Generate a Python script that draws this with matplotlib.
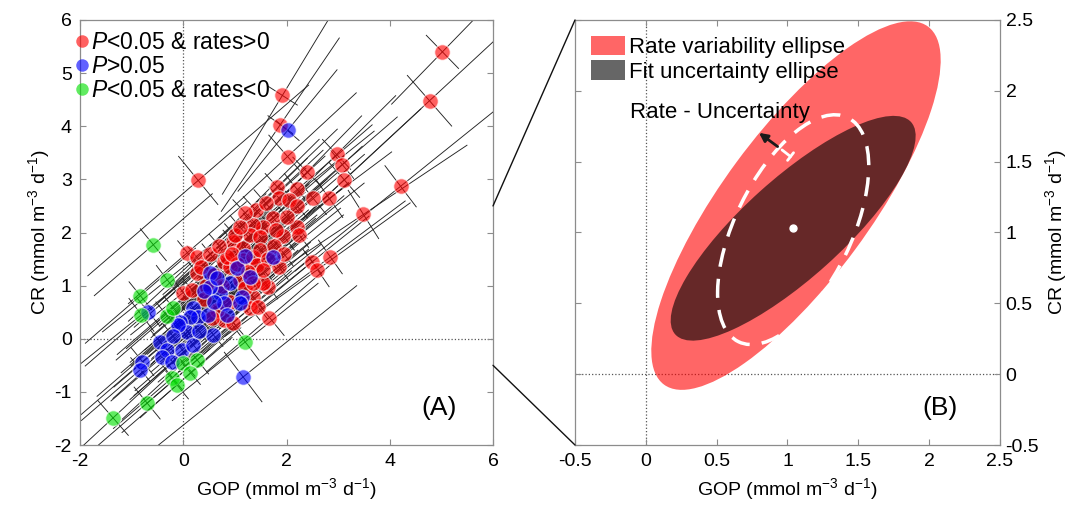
import numpy as np
import matplotlib
matplotlib.use("Agg")
import matplotlib.pyplot as plt
from matplotlib.collections import LineCollection
from matplotlib.patches import Ellipse, Patch, ConnectionPatch
from matplotlib.lines import Line2D

plt.rcParams['font.family'] = ['Liberation Sans', 'DejaVu Sans']
plt.rcParams['mathtext.fontset'] = 'custom'
plt.rcParams['mathtext.rm'] = 'Liberation Sans'
plt.rcParams['mathtext.it'] = 'Liberation Sans:italic'
plt.rcParams['axes.unicode_minus'] = False

# --- panel A: per-station rates, with long/short axis of each fit ellipse ---
# P<0.05 & rates>0
red_gop = [5.02, 4.77, 4.21, 3.49, 1.92, 1.88, 2.02, 2.97, 3.08, 3.12, 0.29, 2.40, 1.82, 2.21, 1.86, 2.05,
           2.52, 2.83, 2.21, 1.40, 1.74, 1.55, 1.94, 2.21, 1.36, 1.20, 2.85, 2.50, 2.60, 1.67, 1.65, 0.08,
           0.27, 0.52, 0.97, 1.16, 1.30, 1.49, 0.78, 0.91, 1.16, 1.36, 1.49, 0.27, 0.00, 0.17, 0.85, 1.05,
           1.43, 1.55, 1.36, 1.30, 0.78, 0.97, 0.66, 1.75, 1.65, 1.85, 1.10, 0.60, 0.45, 1.20, 0.90, 0.40,
           1.00, 0.70, 1.55, 1.95, 1.25, 0.55, 0.35, 2.00, 1.60, 1.10, 0.95, 1.45, 1.80, 0.75, 1.35, 2.25]
red_cr = [5.40, 4.48, 2.87, 2.34, 4.58, 4.03, 3.43, 3.47, 3.28, 2.99, 2.98, 3.14, 2.86, 2.81, 2.64, 2.62,
          2.64, 2.64, 2.49, 2.43, 2.28, 2.11, 1.94, 2.11, 2.15, 2.37, 1.54, 1.45, 1.30, 0.40, 0.98, 1.62,
          1.53, 1.60, 1.83, 1.71, 1.96, 1.92, 1.45, 1.36, 1.49, 1.53, 1.68, 1.24, 0.87, 0.92, 1.54, 1.40,
          1.39, 1.05, 0.79, 0.58, 0.36, 0.30, 0.55, 1.75, 1.50, 1.35, 1.10, 1.20, 1.00, 0.95, 0.70, 0.75,
          1.95, 1.75, 1.30, 1.60, 1.25, 0.40, 1.35, 2.30, 2.55, 2.10, 1.60, 0.60, 2.05, 1.00, 1.05, 1.95]
red_long = [1.4, 3.2, 2.6, 2.4, 2.2, 2.0, 1.8, 1.6, 1.4, 2.0, 2.8, 1.5, 1.6, 1.9, 1.2, 2.1,
            1.3, 1.5, 1.7, 1.4, 1.8, 1.2, 1.6, 1.3, 1.5, 2.0, 1.8, 1.4, 2.2, 1.6, 1.3, 1.5,
            1.8, 1.2, 1.4, 1.6, 1.3, 1.7, 1.1, 1.5, 1.2, 1.4, 1.1, 1.6, 1.3, 1.9, 1.0, 1.3,
            1.5, 1.2, 1.4, 1.6, 1.3, 1.5, 1.1, 1.5, 1.2, 1.6, 1.0, 1.4, 1.2, 1.3, 1.1, 1.5,
            1.2, 1.6, 1.0, 1.4, 1.1, 1.3, 1.0, 1.3, 1.5, 1.7, 1.2, 1.4, 1.1, 1.3, 1.2, 1.6]
red_short = [0.45, 0.65, 0.50, 0.55, 0.35, 0.30, 0.55, 0.40, 0.35, 0.45, 0.60, 0.40, 0.35, 0.40, 0.30, 0.35,
             0.40, 0.45, 0.30, 0.35, 0.30, 0.25, 0.35, 0.30, 0.30, 0.35, 0.40, 0.30, 0.40, 0.45, 0.30, 0.30,
             0.30, 0.25, 0.30, 0.25, 0.30, 0.30, 0.25, 0.25, 0.25, 0.30, 0.25, 0.30, 0.30, 0.30, 0.25, 0.25,
             0.30, 0.30, 0.30, 0.30, 0.30, 0.30, 0.25, 0.30, 0.25, 0.30, 0.25, 0.25, 0.25, 0.25, 0.25, 0.30,
             0.30, 0.30, 0.25, 0.30, 0.25, 0.25, 0.25, 0.30, 0.35, 0.30, 0.25, 0.30, 0.25, 0.25, 0.25, 0.30]
red_ang = [45, 42, 38, 33, 58, 55, 42, 44, 40, 42, 40, 45, 43, 40, 42, 38,
           40, 36, 42, 44, 40, 42, 38, 40, 43, 44, 36, 38, 35, 40, 38, 40,
           42, 40, 43, 41, 42, 40, 42, 40, 41, 40, 42, 40, 38, 40, 42, 40,
           39, 40, 40, 39, 40, 41, 40, 42, 40, 38, 40, 42, 40, 41, 40, 40,
           43, 42, 40, 38, 41, 40, 42, 40, 42, 41, 40, 39, 41, 40, 40, 38]

# P>0.05
blue_gop = [2.02, 1.74, 1.05, 0.52, 1.30, 0.72, 0.52, 0.91, 1.14, 0.78, 1.10, 0.19, 0.29, 0.48, 0.14, -0.06,
            0.08, -0.10, -0.45, -0.31, -0.02, 0.19, -0.41, -0.21, -0.79, -0.83, 0.58, 1.16, -0.68, 0.65, 0.40,
            0.85, 1.20, 0.30, 0.60, -0.20]
blue_cr = [3.92, 1.54, 1.34, 1.24, 1.17, 0.87, 0.98, 1.05, 0.79, 0.68, 0.68, 0.58, 0.41, 0.45, 0.41, 0.32,
           0.13, 0.26, -0.06, -0.21, -0.21, -0.11, -0.34, -0.43, -0.43, -0.58, 0.08, -0.72, 0.51, 1.15, 0.90,
           0.45, 1.55, 0.15, 0.70, 0.05]
blue_long = [1.5, 1.8, 1.2, 1.4, 1.3, 1.1, 1.5, 1.2, 1.4, 1.3, 1.1, 1.6, 1.2, 1.4, 1.1, 1.5,
             1.3, 1.2, 1.6, 1.4, 1.2, 1.5, 1.3, 1.1, 1.8, 1.5, 1.4, 2.8, 1.6, 1.2, 1.3,
             1.1, 1.3, 1.2, 1.4, 1.5]
blue_short = [0.30, 0.35, 0.25, 0.25, 0.25, 0.25, 0.25, 0.25, 0.30, 0.25, 0.25, 0.30, 0.25, 0.25, 0.25, 0.30,
              0.25, 0.30, 0.30, 0.30, 0.25, 0.30, 0.30, 0.25, 0.35, 0.30, 0.30, 0.60, 0.35, 0.25, 0.25,
              0.25, 0.25, 0.25, 0.25, 0.30]
blue_ang = [50, 40, 41, 42, 40, 41, 40, 40, 39, 41, 40, 40, 41, 40, 40, 40,
            41, 40, 40, 41, 40, 40, 40, 41, 40, 40, 40, 38, 40, 41, 40,
            40, 41, 40, 40, 40]

# P<0.05 & rates<0
green_gop = [-0.58, -0.31, -0.83, -0.81, -0.31, -0.19, 0.00, 0.27, 0.14, -0.21, -0.12, -0.70, -1.36, 1.20]
green_cr = [1.77, 1.11, 0.81, 0.45, 0.43, 0.58, -0.45, -0.40, -0.64, -0.73, -0.87, -1.21, -1.49, -0.06]
green_long = [1.5, 1.6, 1.4, 1.8, 1.3, 1.2, 1.6, 1.4, 1.3, 1.5, 1.4, 1.6, 2.0, 1.8]
green_short = [0.40, 0.35, 0.35, 0.40, 0.35, 0.30, 0.35, 0.35, 0.30, 0.35, 0.35, 0.40, 0.45, 0.45]
green_ang = [40, 38, 40, 38, 40, 40, 42, 40, 41, 40, 40, 40, 42, 38]

# --- panel B: illustrative ellipses ---
rate_center = (1.06, 1.19)
rate_axes = (1.57, 0.52)      # semi-axes
rate_angle = 53.6
fit_center = (1.04, 1.03)
fit_axes = (1.12, 0.35)
fit_angle = 42
diff_center = (1.04, 1.02)
diff_axes = (0.88, 0.41)
diff_angle = 64


def cross_segments(x, y, L, S, ang):
    segs = []
    for xi, yi, li, si, ai in zip(x, y, L, S, ang):
        t = np.deg2rad(ai)
        c, s = np.cos(t), np.sin(t)
        segs.append([(xi - li * c, yi - li * s), (xi + li * c, yi + li * s)])
        segs.append([(xi + si * s, yi - si * c), (xi - si * s, yi + si * c)])
    return segs


fig = plt.figure(figsize=(10.72, 5.11), dpi=100)
axA = fig.add_axes([80 / 1072, 66 / 511, 413 / 1072, 425 / 511])
axB = fig.add_axes([575 / 1072, 66 / 511, 425 / 1072, 425 / 511])

spine_col = '#8c8c8c'
for ax in (axA, axB):
    for sp in ax.spines.values():
        sp.set_color(spine_col)
        sp.set_linewidth(0.9)
    ax.tick_params(direction='in', length=4, width=0.8, color=spine_col,
                   labelsize=14, top=True, right=True, pad=6)

# panel A
axA.axvline(0, color='#555555', ls=':', lw=0.9, zorder=1)
axA.axhline(0, color='#555555', ls=':', lw=0.9, zorder=1)

groups = [
    (red_gop, red_cr, red_long, red_short, red_ang, '#ff0000'),
    (blue_gop, blue_cr, blue_long, blue_short, blue_ang, '#0000ff'),
    (green_gop, green_cr, green_long, green_short, green_ang, '#00e000'),
]
for gx, gy, gl, gs, ga, col in groups:
    lc = LineCollection(cross_segments(gx, gy, gl, gs, ga), colors='#222222', linewidths=0.65, zorder=2)
    axA.add_collection(lc)
for gx, gy, gl, gs, ga, col in groups:
    axA.scatter(gx, gy, s=125, c=col, alpha=0.62, edgecolors='white', linewidths=0.9, zorder=3)

axA.set_xlim(-2, 6)
axA.set_ylim(-2, 6)
axA.set_xticks([-2, 0, 2, 4, 6])
axA.set_yticks(range(-2, 7))
axA.set_xlabel('GOP (mmol m$^{-3}$ d$^{-1}$)', fontsize=14, labelpad=4)
axA.set_ylabel('CR (mmol m$^{-3}$ d$^{-1}$)', fontsize=14, labelpad=2)
axA.text(0.87, 0.087, '(A)', transform=axA.transAxes, fontsize=19, ha='center', va='center')

handlesA = [Line2D([], [], ls='none', marker='o', ms=9, mfc=c, mec='none', alpha=0.62)
            for c in ('#ff0000', '#0000ff', '#00e000')]
axA.legend(handlesA, ['$P$<0.05 & rates>0', '$P$>0.05', '$P$<0.05 & rates<0'],
           loc='upper left', bbox_to_anchor=(-0.025, 0.99), frameon=False, fontsize=16.5,
           handlelength=0.5, handletextpad=0.15, borderaxespad=0.1, borderpad=0.2, labelspacing=0.05)

# panel B
axB.axvline(0, color='#555555', ls=':', lw=0.9, zorder=1)
axB.axhline(0, color='#555555', ls=':', lw=0.9, zorder=1)
axB.add_patch(Ellipse(rate_center, 2 * rate_axes[0], 2 * rate_axes[1], angle=rate_angle,
                      facecolor='red', alpha=0.6, lw=0, zorder=2))
axB.add_patch(Ellipse(fit_center, 2 * fit_axes[0], 2 * fit_axes[1], angle=fit_angle,
                      facecolor='black', alpha=0.6, lw=0, zorder=3))
axB.add_patch(Ellipse(diff_center, 2 * diff_axes[0], 2 * diff_axes[1], angle=diff_angle,
                      fill=False, edgecolor='white', lw=2.5, ls=(0, (5.5, 3.5)), zorder=4))
axB.plot(*fit_center, 'o', color='white', ms=5, zorder=5)

axB.annotate('', xy=(1.037, 1.524), xytext=(0.946, 1.595),
             arrowprops=dict(arrowstyle='-[, widthB=0.35, lengthB=0', color='white', lw=2), zorder=5)
axB.annotate('', xy=(0.783, 1.715), xytext=(0.946, 1.595),
             arrowprops=dict(arrowstyle='-|>, head_width=0.25, head_length=0.5', color='#1a1a1a', lw=2), zorder=5)
axB.text(0.52, 1.85, 'Rate - Uncertainty', fontsize=16, ha='center', va='center')

axB.set_xlim(-0.5, 2.5)
axB.set_ylim(-0.5, 2.5)
axB.set_xticks(np.arange(-0.5, 2.51, 0.5))
axB.set_yticks(np.arange(-0.5, 2.51, 0.5))
axB.set_xticklabels(['-0.5', '0', '0.5', '1', '1.5', '2', '2.5'])
axB.set_yticklabels(['-0.5', '0', '0.5', '1', '1.5', '2', '2.5'])
axB.yaxis.tick_right()
axB.tick_params(left=True, labelleft=False, labelright=True)
axB.tick_params(axis='y', pad=4)
axB.yaxis.set_label_position('right')
axB.set_xlabel('GOP (mmol m$^{-3}$ d$^{-1}$)', fontsize=14, labelpad=4)
axB.set_ylabel('CR (mmol m$^{-3}$ d$^{-1}$)', fontsize=14, labelpad=3)
axB.text(0.86, 0.087, '(B)', transform=axB.transAxes, fontsize=19, ha='center', va='center')

handlesB = [Patch(facecolor='red', alpha=0.6, lw=0), Patch(facecolor='black', alpha=0.6, lw=0)]
axB.legend(handlesB, ['Rate variability ellipse', 'Fit uncertainty ellipse'], loc='upper left',
           frameon=False, fontsize=16, handlelength=1.55, handleheight=1.0, handletextpad=0.2,
           borderaxespad=0.3, labelspacing=0.1)

# zoom connectors from panel A's right edge to panel B's corners
for yv in (-0.5, 2.5):
    con = ConnectionPatch(xyA=(6, yv), coordsA=axA.transData, xyB=(-0.5, yv), coordsB=axB.transData,
                          color='#111111', lw=1.0)
    fig.add_artist(con)

fig.savefig('out.png', dpi=100)
